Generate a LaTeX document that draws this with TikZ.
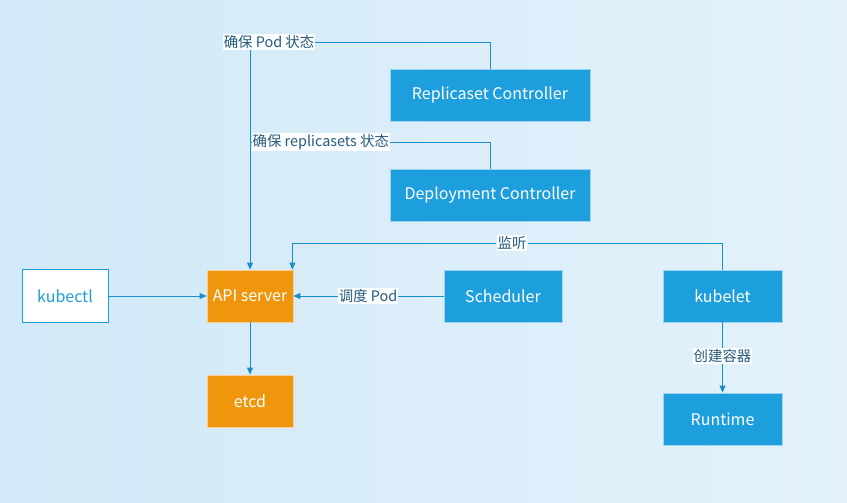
\documentclass[tikz,border=0pt]{standalone}
\usepackage{fontspec}
\setmainfont{Noto Sans CJK SC}
\usetikzlibrary{arrows.meta}
\definecolor{bgA}{HTML}{D2E9F7}
\definecolor{bgB}{HTML}{E3F2FB}
\definecolor{lineC}{HTML}{1A8FCC}
\definecolor{boxB}{HTML}{1E9FDD}
\definecolor{boxO}{HTML}{EF960C}
\definecolor{lblT}{HTML}{2A5C7C}
\begin{document}
\begin{tikzpicture}[x=1pt,y=-1pt,
  box/.style={rectangle, minimum width=#1, minimum height=52pt, inner sep=0pt, font=\fontsize{16}{19}\selectfont, text=white, draw=white!55!boxB, line width=0.8pt},
  bluebox/.style={box=#1, fill=boxB},
  orangebox/.style={box=#1, fill=boxO, draw=white!55!boxO},
  lbl/.style={fill=white, fill opacity=0.9, text opacity=1, text=lblT, inner sep=1pt, font=\fontsize{14.4}{17}\selectfont},
  conn/.style={draw=lineC, line width=0.8pt},
  arr/.style={conn, -{Triangle[length=7pt,width=6pt]}}]
\useasboundingbox (0,0) rectangle (847,503);
\shade[left color=bgA, right color=bgB] (0,0) rectangle (847,503);
% boxes
\node[box=86, fill=white, draw=boxB, text=boxB, minimum height=53pt] (kubectl) at (65,296) {kubectl};
\node[orangebox=86] (api) at (250,296) {API server};
\node[orangebox=86] (etcd) at (250,401) {etcd};
\node[bluebox=118] (sched) at (503,296) {Scheduler};
\node[bluebox=119] (kubelet) at (722.5,296) {kubelet};
\node[bluebox=119] (runtime) at (722.5,419) {Runtime};
\node[bluebox=200] (rs) at (490,95) {Replicaset Controller};
\node[bluebox=200] (dc) at (490,195) {Deployment Controller};
% labels
\node[lbl] (lpod) at (269,42) {确保 Pod 状态};
\node[lbl, anchor=west] (lrs) at (251.5,142) {确保 replicasets 状态};
\node[lbl] (ljt) at (512,243) {监听};
\node[lbl] (lsch) at (368,296) {调度 Pod};
\node[lbl] (lcj) at (722.5,356) {创建容器};
% connectors
\draw[conn] (rs.north) |- (lpod.east);
\draw[arr] (api.north |- lpod.south) -- (api.north);
\draw[conn] (dc.north) |- (lrs.east);
\draw[conn] (lrs.west) -- (lrs.west -| api.north);
\draw[conn] (kubelet.north) |- (ljt.east);
\coordinate (apiNE) at ([xshift=-1pt]api.north east);
\draw[arr] (ljt.west) -| (apiNE);
\draw[conn] (sched.west) -- (lsch.east);
\draw[arr] (lsch.west) -- (api.east);
\draw[arr] (kubectl.east) -- (api.west);
\draw[arr] (api.south) -- (etcd.north);
\draw[conn] (kubelet.south) -- (lcj.north);
\draw[arr] (lcj.south) -- (runtime.north);
\end{tikzpicture}
\end{document}
